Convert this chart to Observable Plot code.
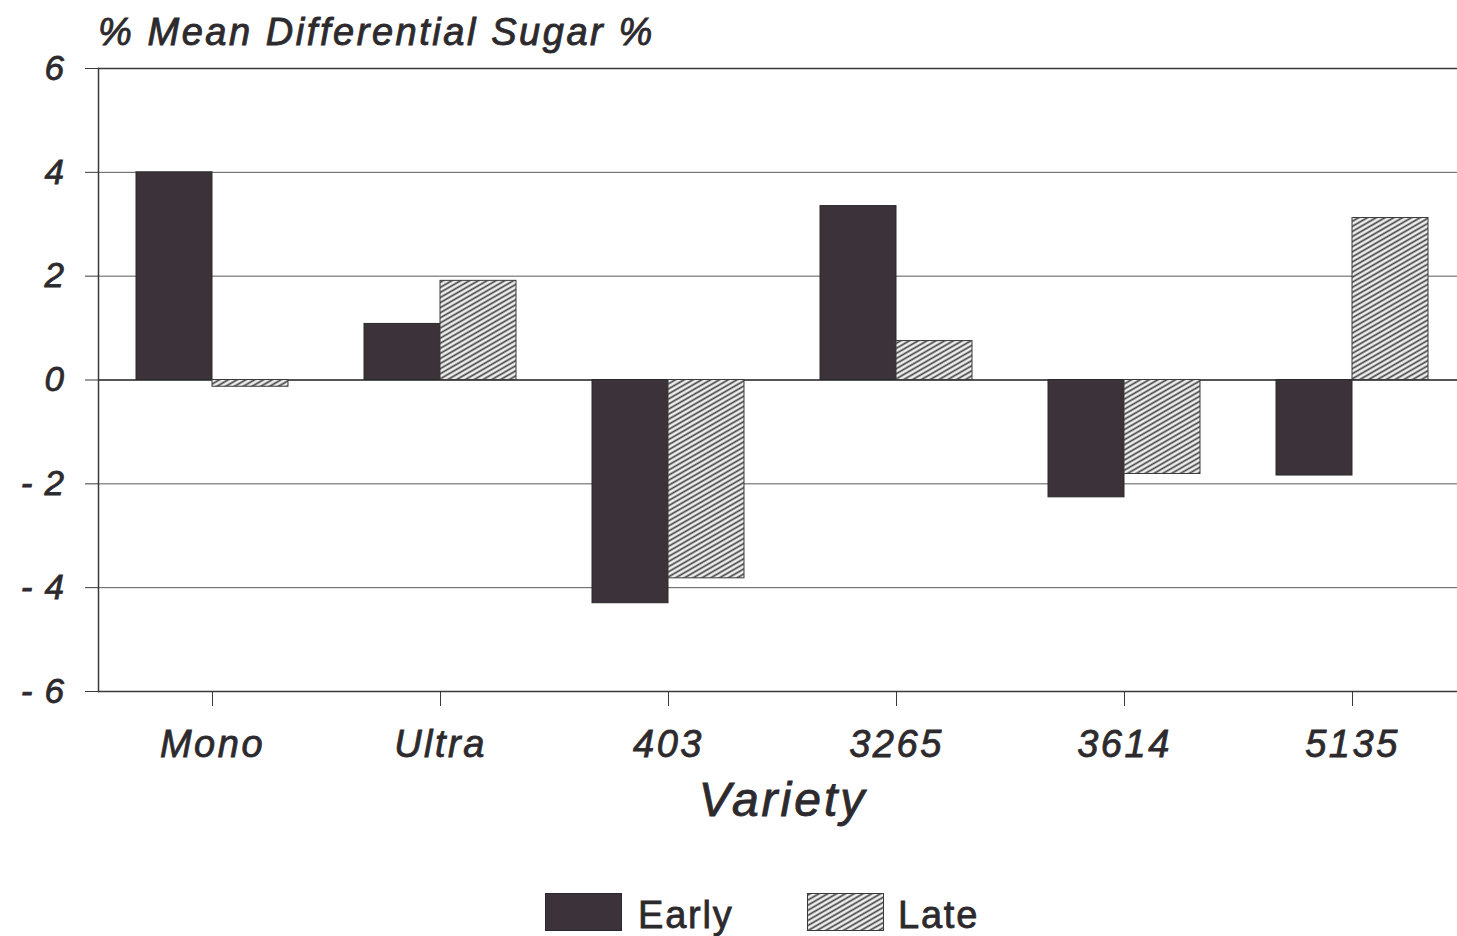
<!DOCTYPE html>
<html>
<head>
<meta charset="utf-8">
<script src="https://cdn.jsdelivr.net/npm/d3@7"></script>
<script src="https://cdn.jsdelivr.net/npm/@observablehq/plot@0.6"></script>
<style>
  html, body { margin: 0; padding: 0; background: #fff; overflow: hidden; }
  #wrap { position: relative; width: 1457px; height: 936px; overflow: hidden; font-family: "Liberation Sans", Arial, sans-serif; color: #2d2a2e; }
  #title { position: absolute; left: 98px; top: 13px; font-size: 38px; line-height: 1; font-style: italic; letter-spacing: 2.55px; white-space: nowrap; -webkit-text-stroke: 0.9px #2d2a2e; }
  #chart { position: absolute; left: 0; top: 50px; width: 1468px; }
  #chart svg { max-width: none !important; }
  #chart svg text { letter-spacing: 2.5px; }
  #chart svg g[aria-label="fx-axis tick label"] text, #chart svg g[aria-label="y-axis tick label"] text { stroke: #2d2a2e; stroke-width: 0.8px; }
  #xlabel { position: absolute; left: 583px; width: 400px; top: 776px; text-align: center; font-size: 48px; line-height: 1; font-style: italic; letter-spacing: 3px; -webkit-text-stroke: 0.9px #2d2a2e; }
  .lg { position: absolute; top: 896px; font-size: 38px; line-height: 1; letter-spacing: 1.8px; -webkit-text-stroke: 0.8px #2d2a2e; }
  .sw { position: absolute; top: 893px; width: 77px; height: 38px; box-sizing: border-box; }
</style>
</head>
<body>
<svg width="0" height="0" style="position:absolute">
  <defs>
    <pattern id="hatch" patternUnits="userSpaceOnUse" width="12" height="4.4" patternTransform="rotate(-30)">
      <rect width="12" height="4.4" fill="#f0f0f0"></rect>
      <line x1="0" y1="2.2" x2="12" y2="2.2" stroke="#454545" stroke-width="1.7"></line>
    </pattern>
  </defs>
</svg>
<div id="wrap">
  <div id="title">% Mean Differential Sugar %</div>
  <div id="chart"></div>
  <div id="xlabel">Variety</div>
  <svg class="sw" style="left:545px" width="77" height="38"><rect x="0.5" y="0.5" width="76" height="37" fill="#3b3339" stroke="#2a2a2a"></rect></svg>
  <div class="lg" style="left:638px">Early</div>
  <svg class="sw" style="left:807px" width="77" height="38"><rect x="0.5" y="0.5" width="76" height="37" fill="url(#hatch)" stroke="#3a3a3a"></rect></svg>
  <div class="lg" style="left:898px">Late</div>
</div>
<script>
const varieties = ["Mono", "Ultra", "403", "3265", "3614", "5135"];
const series = ["Early", "Late"];
const earlyValues = [4.0, 1.08, -4.3, 3.35, -2.26, -1.84];
const lateValues = [-0.13, 1.91, -3.82, 0.75, -1.81, 3.12];
const yTicks = [-6, -4, -2, 0, 2, 4, 6];

const rows = [];
varieties.forEach((v, i) => {
  rows.push({variety: v, series: "Early", value: earlyValues[i]});
  rows.push({variety: v, series: "Late", value: lateValues[i]});
});

const chart = Plot.plot({
  width: 1468,
  height: 720,
  marginTop: 18,
  marginBottom: 79,
  marginLeft: 95,
  marginRight: 0,
  style: {fontFamily: "'Liberation Sans', Arial, sans-serif", background: "transparent", color: "#2d2a2e", overflow: "visible"},
  fx: {domain: varieties, padding: 0, label: null},
  x: {domain: series, paddingInner: 0, paddingOuter: 0.486, axis: null},
  y: {domain: [-6, 6]},
  marks: [
    Plot.gridY(yTicks, {stroke: "#5a5a5a", strokeOpacity: 1, strokeWidth: 1}),
    Plot.ruleY([-6, 6], {stroke: "#3a3a3a", strokeWidth: 1.5}),
    Plot.ruleY([0], {stroke: "#3a3a3a", strokeWidth: 1.6}),
    Plot.barY(rows.filter(d => d.series === "Early"), {fx: "variety", x: "series", y: "value", fill: "#3b3339", stroke: "#2a2a2a", strokeWidth: 1}),
    Plot.barY(rows.filter(d => d.series === "Late"), {fx: "variety", x: "series", y: "value", fill: "url(#hatch)", stroke: "#3a3a3a", strokeWidth: 1}),
    Plot.frame({anchor: "left", facet: "super", stroke: "#3a3a3a", strokeWidth: 1.5}),
    Plot.axisY(yTicks, {
      anchor: "left", tickSize: 13, tickPadding: 19, label: null,
      fontSize: 35, fontStyle: "italic", stroke: "#3a3a3a",
      tickFormat: d => d < 0 ? "-\u2009" + Math.abs(d) : String(d)
    }),
    Plot.axisFx({
      anchor: "bottom", tickSize: 15, tickPadding: 24, label: null,
      fontSize: 38, fontStyle: "italic", stroke: "#3a3a3a"
    })
  ]
});
document.getElementById("chart").appendChild(chart);
</script>
</body>
</html>
